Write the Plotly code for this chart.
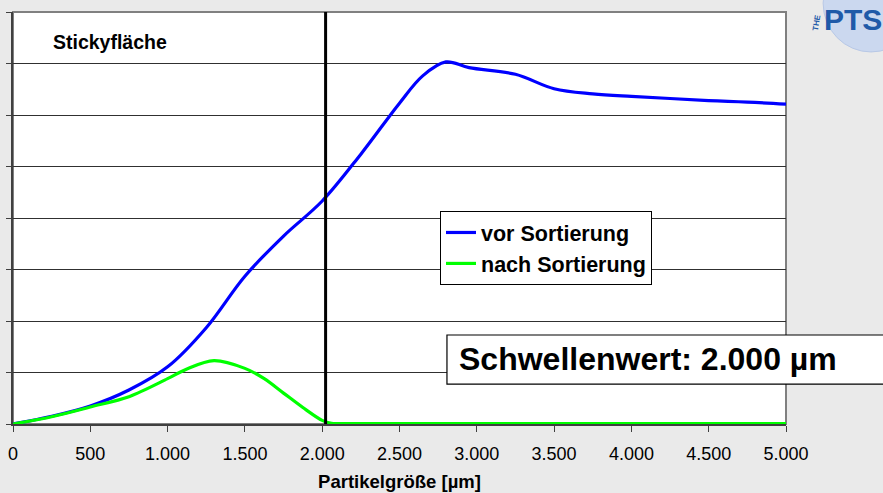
import plotly.graph_objects as go

# ---- data ----
x_vor = [0, 250, 500, 750, 1000, 1250, 1500, 1750, 2000, 2250, 2500, 2650, 2800, 2950,
         3250, 3500, 3750, 4000, 4250, 4500, 4750, 5000]
y_vor = [0, 0.15, 0.35, 0.66, 1.11, 1.87, 2.87, 3.65, 4.33, 5.24, 6.23, 6.76, 7.03, 6.92,
         6.79, 6.51, 6.41, 6.36, 6.32, 6.28, 6.25, 6.21]

x_nach = [0, 250, 500, 750, 1000, 1125, 1300, 1500, 1625, 1750, 1875, 2000, 2060,
          2250, 2500, 3000, 3500, 4000, 4500, 5000]
y_nach = [0, 0.14, 0.33, 0.53, 0.88, 1.07, 1.23, 1.08, 0.88, 0.6, 0.32, 0.07, 0.015,
          0.01, 0.01, 0.01, 0.01, 0.01, 0.01, 0.01]

x_ticks = [0, 500, 1000, 1500, 2000, 2500, 3000, 3500, 4000, 4500, 5000]
x_tick_labels = ["0", "500", "1.000", "1.500", "2.000", "2.500", "3.000",
                 "3.500", "4.000", "4.500", "5.000"]
y_ticks = [0, 1, 2, 3, 4, 5, 6, 7, 8]
threshold = 2022

series_names = ["vor Sortierung", "nach Sortierung"]
x_title = "Partikelgröße [µm]"
y_title = "Stickyfläche"
threshold_text = "Schwellenwert: 2.000 µm"

FONT = "Arial, 'Liberation Sans', sans-serif"

fig = go.Figure()
fig.add_trace(go.Scatter(x=x_vor, y=y_vor, mode="lines", name=series_names[0],
                         line=dict(color="#0000ff", width=3.2, shape="spline", smoothing=1.0)))
fig.add_trace(go.Scatter(x=x_nach, y=y_nach, mode="lines", name=series_names[1],
                         line=dict(color="#00ff00", width=3.2, shape="spline", smoothing=0.9)))

fig.update_layout(
    width=883, height=493,
    margin=dict(l=13, r=97, t=12, b=69, autoexpand=False),
    paper_bgcolor="#eaeaea",
    plot_bgcolor="#ffffff",
    font=dict(family=FONT, color="#000000"),
    showlegend=True,
    legend=dict(x=0.5524, y=0.517, xanchor="left", yanchor="top",
                bgcolor="#ffffff", bordercolor="#000000", borderwidth=1,
                font=dict(family=FONT, size=21.5, color="#000000", weight="bold"),
                tracegroupgap=0, itemwidth=30),
    xaxis=dict(range=[0, 5000], tickvals=x_ticks, ticktext=x_tick_labels,
               automargin=False,
               showgrid=False, zeroline=False, showline=True, linecolor="#404040",
               linewidth=2, ticks="outside", ticklen=6, tickcolor="#404040",
               tickfont=dict(family=FONT, size=18, color="#000000"),
               ticklabelstandoff=6,
               title=dict(text="<b>" + x_title + "</b>", standoff=12,
                          font=dict(family=FONT, size=18.5, color="#000000"))),
    yaxis=dict(range=[0, 8], tickvals=y_ticks, showticklabels=False, automargin=False,
               showgrid=True, gridcolor="#303030", gridwidth=1, zeroline=False,
               showline=True, linecolor="#404040", linewidth=2,
               ticks="outside", ticklen=5, tickcolor="#404040"),
)

# frame of plot area (gray, top & right)
fig.add_shape(type="rect", xref="paper", yref="paper", x0=0, x1=1, y0=0, y1=1,
              line=dict(color="#808080", width=2), layer="below")
# threshold line
fig.add_shape(type="line", xref="x", yref="paper", x0=threshold, x1=threshold, y0=0, y1=1,
              line=dict(color="#000000", width=3), layer="above")
# threshold box (extends past right edge)
fig.add_shape(type="rect", xref="paper", yref="paper", x0=0.5614, x1=1.2, y0=0.097, y1=0.216,
              line=dict(color="#000000", width=1.2), fillcolor="#ffffff", layer="above")
fig.add_annotation(xref="paper", yref="paper", x=0.5744, y=0.1566, xanchor="left",
                   yanchor="middle", showarrow=False, text="<b>" + threshold_text + "</b>",
                   font=dict(family=FONT, size=32, color="#000000"))
# y title inside plot
fig.add_annotation(xref="paper", yref="paper", x=0.049, y=0.927, xanchor="left",
                   yanchor="middle", showarrow=False, text="<b>" + y_title + "</b>",
                   font=dict(family=FONT, size=19.5, color="#000000"))

# PTS logo (approximation)
fig.add_shape(type="circle", xref="paper", yref="paper", x0=1.048, x1=1.172,
              y0=0.903, y1=1.14, line=dict(color="#b8c8e6", width=1),
              fillcolor="#cbd8ef", layer="above")
fig.add_annotation(xref="paper", yref="paper", x=1.127, y=0.983, xanchor="right",
                   yanchor="middle", showarrow=False, text="<b>PTS</b>",
                   font=dict(family=FONT, size=30, color="#1f5aa8"))
fig.add_annotation(xref="paper", yref="paper", x=1.0395, y=0.975, xanchor="center",
                   yanchor="middle", showarrow=False, text="<b>THE</b>", textangle=-80,
                   font=dict(family=FONT, size=8, color="#1f5aa8"))

fig.write_html("out.html", config={"displayModeBar": False},
               post_script="document.body.style.margin='0';"
                           "document.body.style.background='#eaeaea';")
